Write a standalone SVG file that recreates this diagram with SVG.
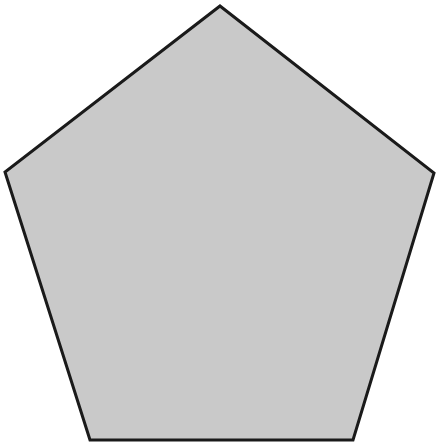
<svg xmlns="http://www.w3.org/2000/svg" width="437" height="446" viewBox="0 0 437 446">
<style>.shape{fill:#c9c9c9;stroke:#1a1a1a;stroke-width:3;stroke-linejoin:miter}</style>
<rect width="437" height="446" fill="#ffffff"/>
<g id="pentagon">
<polygon class="shape" points="220,6 434,173 353,440 90,440 5,172"/>
</g>
</svg>
